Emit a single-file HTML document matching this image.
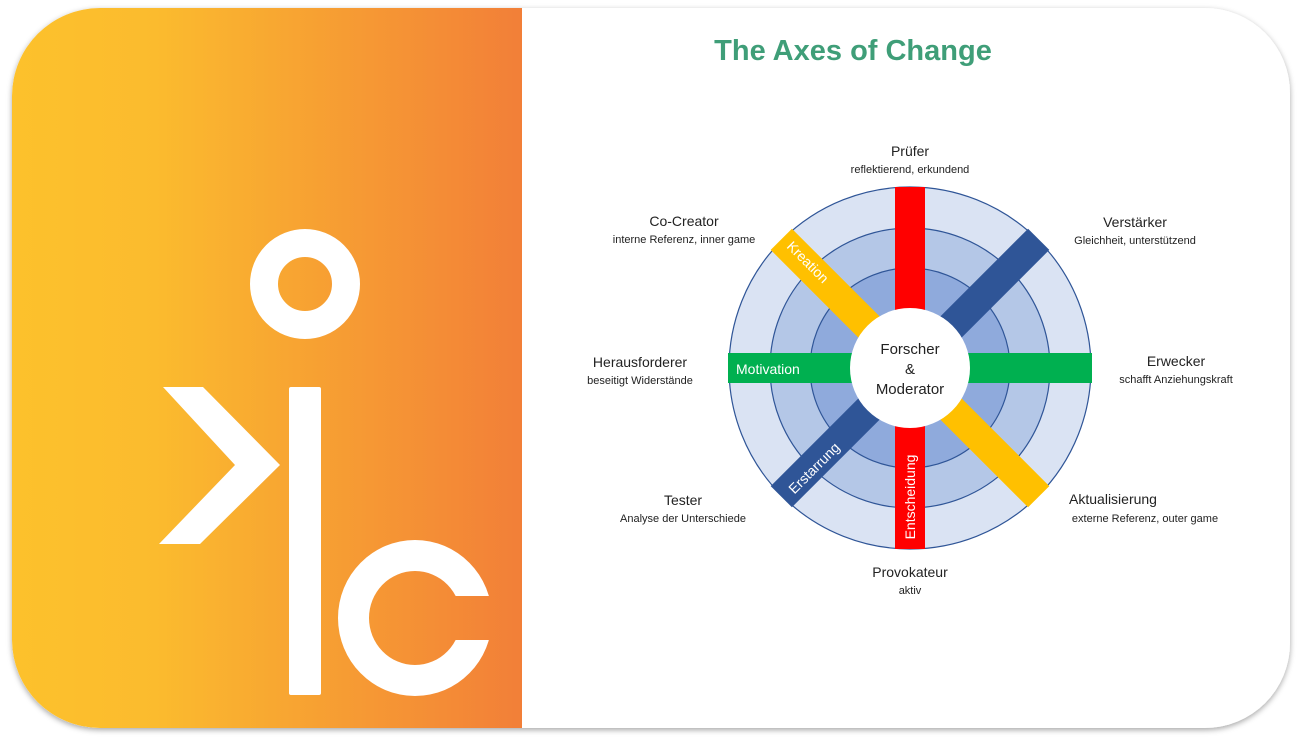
<!DOCTYPE html>
<html><head><meta charset="utf-8"><style>
html,body{margin:0;padding:0;background:#fff;}
svg{display:block;font-family:"Liberation Sans",sans-serif;}
</style></head><body>
<svg width="1301" height="741" viewBox="0 0 1301 741">
<defs>
<linearGradient id="og" x1="0" y1="0" x2="1" y2="0">
<stop offset="0" stop-color="#fdc22c"/><stop offset="0.3" stop-color="#fbbb2e"/><stop offset="1" stop-color="#f27f38"/>
</linearGradient>
<clipPath id="card"><path d="M100 8 H1205 A85 85 0 0 1 1290 93 V643 A85 85 0 0 1 1205 728 H100 A88 88 0 0 1 12 640 V96 A88 88 0 0 1 100 8 Z"/></clipPath>
<filter id="sh" x="-5%" y="-5%" width="110%" height="110%"><feDropShadow dx="0" dy="2" stdDeviation="3" flood-color="#000" flood-opacity="0.35"/></filter>
<mask id="cm"><rect x="300" y="500" width="220" height="230" fill="#fff"/><rect x="440" y="596" width="80" height="44" fill="#000"/></mask>
</defs>
<path filter="url(#sh)" fill="#fff" d="M100 8 H1205 A85 85 0 0 1 1290 93 V643 A85 85 0 0 1 1205 728 H100 A88 88 0 0 1 12 640 V96 A88 88 0 0 1 100 8 Z"/>
<g clip-path="url(#card)">
<rect x="0" y="0" width="522" height="741" fill="url(#og)"/>
</g>
<!-- logo -->
<circle cx="305" cy="284" r="41" fill="none" stroke="#fff" stroke-width="28"/>
<polygon points="163,387 203,387 280,465 200,544 159,544 235,465" fill="#fff"/>
<rect x="289" y="387" width="32" height="308" rx="2" fill="#fff"/>
<g mask="url(#cm)">
<path fill="#fff" fill-rule="evenodd" d="M338 618 A77 78 0 1 0 492 618 A77 78 0 1 0 338 618 Z M369 618 A46 47 0 1 0 461 618 A46 47 0 1 0 369 618 Z"/>
</g>
<rect x="452" y="561" width="40" height="35" fill="url(#og)" transform="translate(0,0)" opacity="0"/>
<!-- title -->
<text x="853" y="60" text-anchor="middle" font-size="29" font-weight="bold" fill="#3f9e78">The Axes of Change</text>
<!-- rings -->
<circle cx="910" cy="368" r="181" fill="#dae3f3" stroke="#2f5597" stroke-width="1.2"/>
<circle cx="910" cy="368" r="140" fill="#b4c7e7" stroke="#2f5597" stroke-width="1.2"/>
<circle cx="910" cy="368" r="100" fill="#8faadc" stroke="#2f5597" stroke-width="1.2"/>
<g transform="translate(910,368)">
<rect x="0" y="-15" width="182" height="30" fill="#2f5597" transform="rotate(-45)"/>
<rect x="0" y="-15" width="182" height="30" fill="#2f5597" transform="rotate(135)"/>
<rect x="0" y="-15" width="182" height="30" fill="#ffc000" transform="rotate(45)"/>
<rect x="0" y="-15" width="182" height="30" fill="#ffc000" transform="rotate(-135)"/>
<rect x="-15" y="-181" width="30" height="362" fill="#ff0000"/>
<rect x="-182" y="-15" width="364" height="30" fill="#00b050"/>
<circle cx="0" cy="0" r="60" fill="#fff"/>
</g>
<g fill="#fff" font-size="14">
<text x="736" y="374">Motivation</text>
<text transform="translate(808,262) rotate(45)" text-anchor="middle" dy="5">Kreation</text>
<text transform="translate(814,468) rotate(-45)" text-anchor="middle" dy="5">Erstarrung</text>
<text transform="translate(910,497) rotate(-90)" text-anchor="middle" dy="5">Entscheidung</text>
</g>
<g fill="#222" font-size="15" text-anchor="middle">
<text x="910" y="354">Forscher</text>
<text x="910" y="374">&amp;</text>
<text x="910" y="394">Moderator</text>
</g>
<g fill="#222" text-anchor="middle">
<text x="910" y="156" font-size="14">Prüfer</text><text x="910" y="173" font-size="11">reflektierend, erkundend</text>
<text x="684" y="226" font-size="14">Co-Creator</text><text x="684" y="243" font-size="11">interne Referenz, inner game</text>
<text x="1135" y="227" font-size="14">Verstärker</text><text x="1135" y="244" font-size="11">Gleichheit, unterstützend</text>
<text x="640" y="367" font-size="14">Herausforderer</text><text x="640" y="384" font-size="11">beseitigt Widerstände</text>
<text x="1176" y="366" font-size="14">Erwecker</text><text x="1176" y="383" font-size="11">schafft Anziehungskraft</text>
<text x="683" y="505" font-size="14">Tester</text><text x="683" y="522" font-size="11">Analyse der Unterschiede</text>
<text x="1113" y="504" font-size="14">Aktualisierung</text><text x="1145" y="522" font-size="11">externe Referenz, outer game</text>
<text x="910" y="577" font-size="14">Provokateur</text><text x="910" y="594" font-size="11">aktiv</text>
</g>
</svg>
</body></html>
